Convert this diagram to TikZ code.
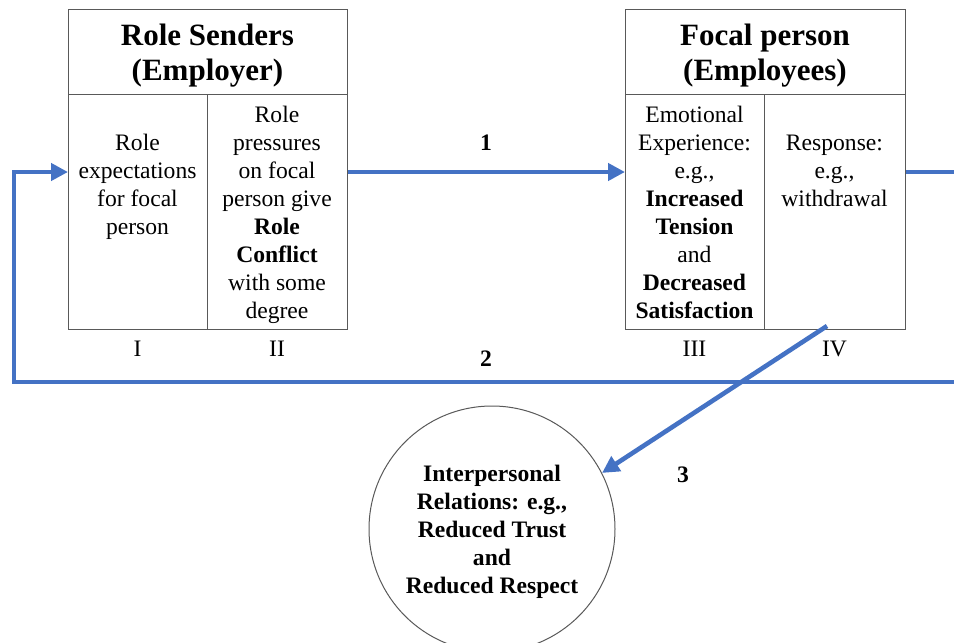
\documentclass[tikz,border=0pt]{standalone}
\usepackage{fontspec}
\setmainfont{Liberation Serif}
\usetikzlibrary{arrows.meta}
\definecolor{flowblue}{HTML}{4472C4}
\definecolor{framegray}{HTML}{595959}
\begin{document}
% multi-line text nodes are placed by the baseline of their last line (anchor=base)
\begin{tikzpicture}[x=1pt,y=-1pt,
  cellbox/.style={draw=framegray, line width=1.1pt, inner sep=0pt, anchor=north west},
  body/.style={font=\fontsize{23.6}{28}\selectfont, align=center, inner sep=0pt, anchor=base},
  boldbody/.style={body, font=\fontsize{23.6}{28}\selectfont\bfseries},
  title/.style={font=\fontsize{31}{35}\selectfont\bfseries, align=center, inner sep=0pt, anchor=base},
  tag/.style={font=\fontsize{23.6}{28}\selectfont, inner sep=0pt, anchor=base},
  num/.style={font=\fontsize{23.6}{28}\selectfont\bfseries, inner sep=0pt, anchor=base},
  flow/.style={draw=flowblue, line width=4.6pt},
  tip/.style={-{Triangle[length=17pt,width=17pt]}}]
\useasboundingbox (0,0) rectangle (954,643);
\begin{scope}
\clip (0,0) rectangle (954,643);

% Role senders block
\node[cellbox, minimum width=279pt, minimum height=85pt] (hdrL) at (68,9) {};
\node[title] (tL) at (207.5,80) {Role Senders\\(Employer)};
\node[cellbox, minimum width=139pt, minimum height=235pt] (cellI) at (68,94) {};
\node[cellbox, minimum width=140pt, minimum height=235pt] (cellII) at (207,94) {};
\node[body] (txI) at (137.5,234) {Role\\expectations\\for focal\\person};
\node[body] (txII) at (277,318) {Role\\pressures\\on focal\\person give\\\textbf{Role}\\\textbf{Conflict}\\with some\\degree};

% Focal person block
\node[cellbox, minimum width=280pt, minimum height=85pt] (hdrR) at (625,9) {};
\node[title] (tR) at (765,80) {Focal person\\(Employees)};
\node[cellbox, minimum width=139pt, minimum height=235pt] (cellIII) at (625,94) {};
\node[cellbox, minimum width=141pt, minimum height=235pt] (cellIV) at (764,94) {};
\node[body] (txIII) at (694.5,318) {Emotional\\Experience:\\e.g.,\\\textbf{Increased}\\\textbf{Tension}\\and\\\textbf{Decreased}\\\textbf{Satisfaction}};
\node[body] (txIV) at (834.5,206) {Response:\\e.g.,\\withdrawal};

% column numbers
\node[tag] (lI) at (137.5,356) {I};
\node[tag] (lII) at (277,356) {II};
\node[tag] (lIII) at (694.5,356) {III};
\node[tag] (lIV) at (834.5,356) {IV};

% outcome circle
\node[circle, draw=framegray, line width=1pt, minimum size=246pt, inner sep=0pt] (circ) at (492,529) {};
\node[boldbody] (txC) at (492,593) {Interpersonal\\Relations: e.g.,\\Reduced Trust\\and\\Reduced Respect};

% path numbers
\node[num] (n1) at (486,150) {1};
\node[num] (n2) at (486,366) {2};
\node[num] (n3) at (683,482) {3};

% connectors
\coordinate (lvl1) at (0,172);
\coordinate (lvl2) at (0,382);
\coordinate (offR) at (975,172);
\coordinate (loopL) at (14,382);
\coordinate (r3) at (827,326);
\draw[flow, tip] (cellII.east |- lvl1) -- (cellIII.west |- lvl1);
\draw[flow, tip] (cellIV.east |- lvl1) -- (offR) -- (offR |- lvl2) -- (loopL) -- (loopL |- lvl1) -- (cellI.west |- lvl1);
\draw[flow, tip] (r3) -- (circ.27);
\end{scope}
\end{tikzpicture}
\end{document}
